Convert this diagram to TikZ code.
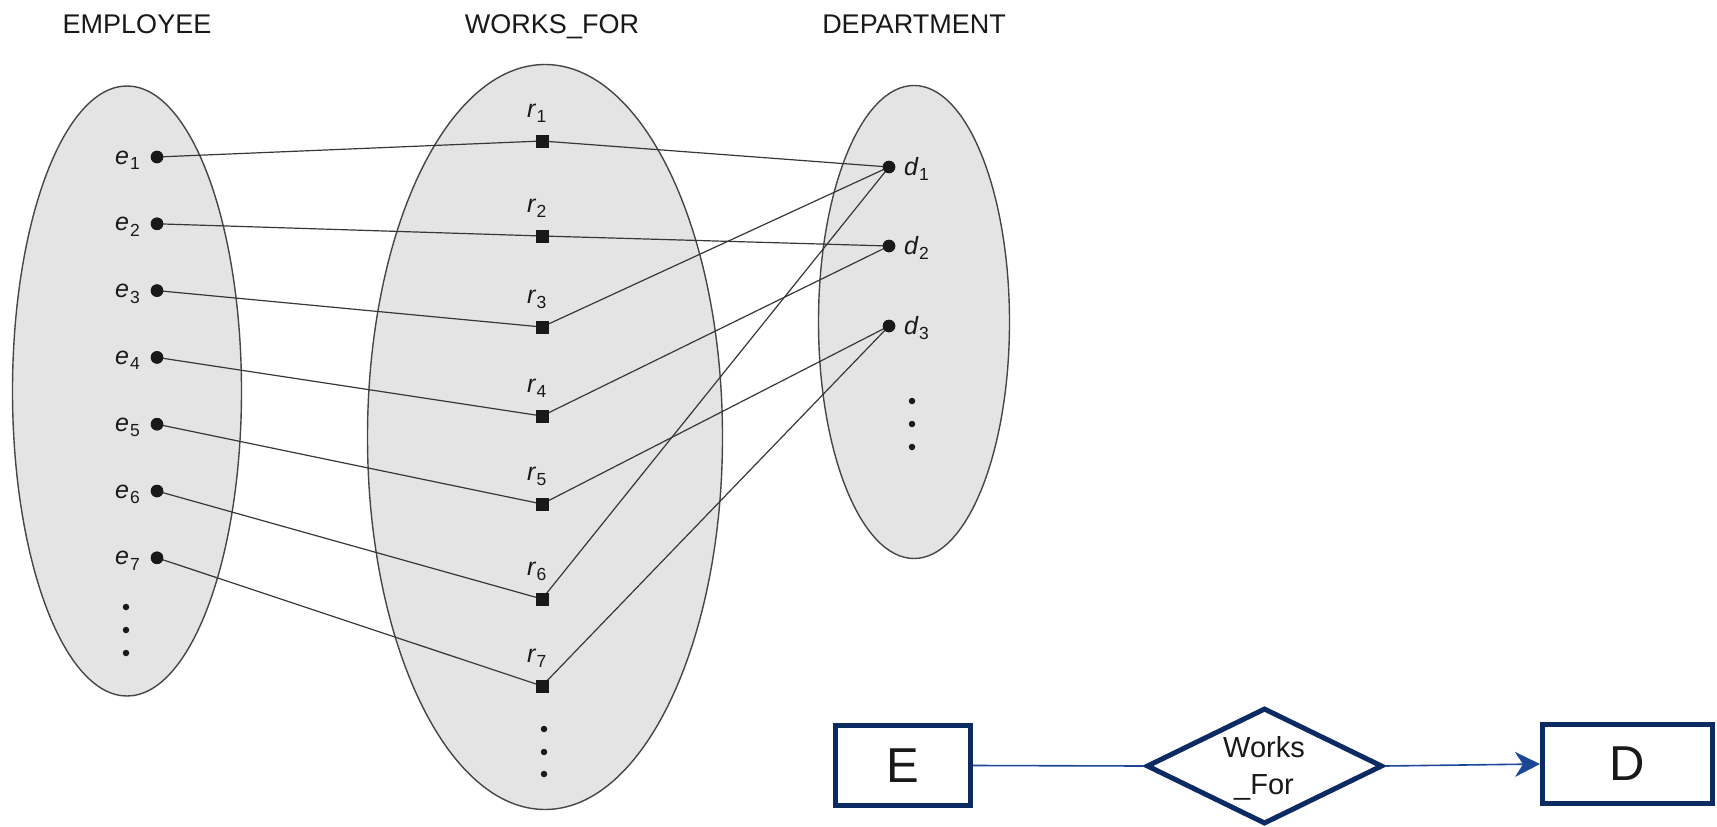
\documentclass[tikz,border=0pt]{standalone}
\usepackage{fontspec}
\setmainfont{Liberation Sans}
\usetikzlibrary{shapes.geometric,arrows.meta}

\definecolor{setfill}{RGB}{228,228,228}
\definecolor{setedge}{RGB}{70,70,70}
\definecolor{wirec}{RGB}{55,55,55}
\definecolor{ink}{RGB}{25,25,25}
\definecolor{navy}{RGB}{13,43,99}
\definecolor{erblue}{RGB}{28,71,150}

% italic element name with an upright subscript index
\newcommand{\elab}[2]{{\fontsize{25}{25}\selectfont\itshape #1}\kern1pt\raisebox{-5.5pt}{\fontsize{17.5}{17.5}\selectfont #2}}

\begin{document}
\begin{tikzpicture}[x=1pt,y=-1pt,
  setbg/.style={ellipse, draw=setedge, fill=setfill, line width=1.4pt, inner sep=0pt},
  title/.style={font=\fontsize{27}{27}\selectfont, text=ink, anchor=base, inner sep=0pt},
  edot/.style={circle, fill=ink, minimum size=12.5pt, inner sep=0pt},
  rsq/.style={rectangle, fill=ink, minimum size=13pt, inner sep=0pt},
  smalldot/.style={circle, fill=ink, minimum size=6.5pt, inner sep=0pt},
  lab/.style={inner sep=0pt, text=ink},
  wire/.style={draw=wirec, line width=1.2pt},
  ent/.style={rectangle, draw=navy, line width=5pt, fill=white, inner sep=0pt,
              font=\fontsize{49}{49}\selectfont, text=ink},
  rel/.style={diamond, draw=navy, line width=5pt, fill=white, inner sep=0pt},
  erline/.style={draw=erblue, line width=1.6pt}
]
\useasboundingbox (0,0) rectangle (1717,827);

% entity and relationship sets
\node[setbg, minimum width=229pt, minimum height=610pt] (emp) at (127,391) {};
\node[setbg, minimum width=355pt, minimum height=745pt] (wrk) at (545,437) {};
\node[setbg, minimum width=191pt, minimum height=473pt] (dep) at (914,322) {};

\node[title] (tEmp) at (137,33) {EMPLOYEE};
\node[title] (tWrk) at (552,33) {WORKS\_FOR};
\node[title] (tDep) at (914,33) {DEPARTMENT};

% employees
\foreach \i in {1,...,7} {
  \node[edot] (e\i) at (157,{157+66.8*(\i-1)}) {};
  \node[lab, anchor=base east] (le\i) at ([xshift=-17pt,yshift=-7pt]e\i.center) {\elab{e}{\i}};
}
% relationship instances
\foreach \i/\y in {1/141,2/236,3/327,4/416,5/504,6/599,7/686} {
  \node[rsq] (r\i) at (542,\y) {};
  \node[lab, anchor=base west] (lr\i) at ([xshift=-15pt,yshift=24pt]r\i.center) {\elab{r}{\i}};
}
% departments
\foreach \i/\y in {1/167,2/246,3/326} {
  \node[edot] (d\i) at (889,\y) {};
  \node[lab, anchor=base west] (ld\i) at ([xshift=15pt,yshift=-8pt]d\i.center) {\elab{d}{\i}};
}

% continuation dots
\foreach \k/\y in {1/607,2/630,3/653} { \node[smalldot] (me\k) at (126,\y) {}; }
\foreach \k/\y in {1/729,2/752,3/774} { \node[smalldot] (mr\k) at (544,\y) {}; }
\foreach \k/\y in {1/401,2/424,3/447} { \node[smalldot] (md\k) at (912,\y) {}; }

% instance links
\foreach \i/\j in {1/1,2/2,3/1,4/2,5/3,6/1,7/3} {
  \draw[wire] (e\i.center) -- (r\i.center) -- (d\j.center);
}
% redraw markers on top of the links
\foreach \i in {1,...,7} { \node[edot] at (e\i) {}; \node[rsq] at (r\i) {}; }
\foreach \i in {1,2,3} { \node[edot] at (d\i) {}; }

% ER notation
\node[ent, minimum width=135pt, minimum height=80pt] (E) at (903,765.5) {E};
\node[rel, minimum width=236pt, minimum height=116pt] (wf) at (1264.5,766) {};
\node[font=\fontsize{29}{37}\selectfont, align=center, text=ink, inner sep=0pt] (wft) at (1264,768) {Works\\\_For};
\node[ent, minimum width=170pt, minimum height=79pt] (D) at (1627.5,764) {D};
\draw[erline] (E.east) -- (wf.west);
\draw[erline, -{Stealth[length=25pt,width=25pt,inset=8pt]}] (wf.east) -- (D.west);
\end{tikzpicture}
\end{document}
